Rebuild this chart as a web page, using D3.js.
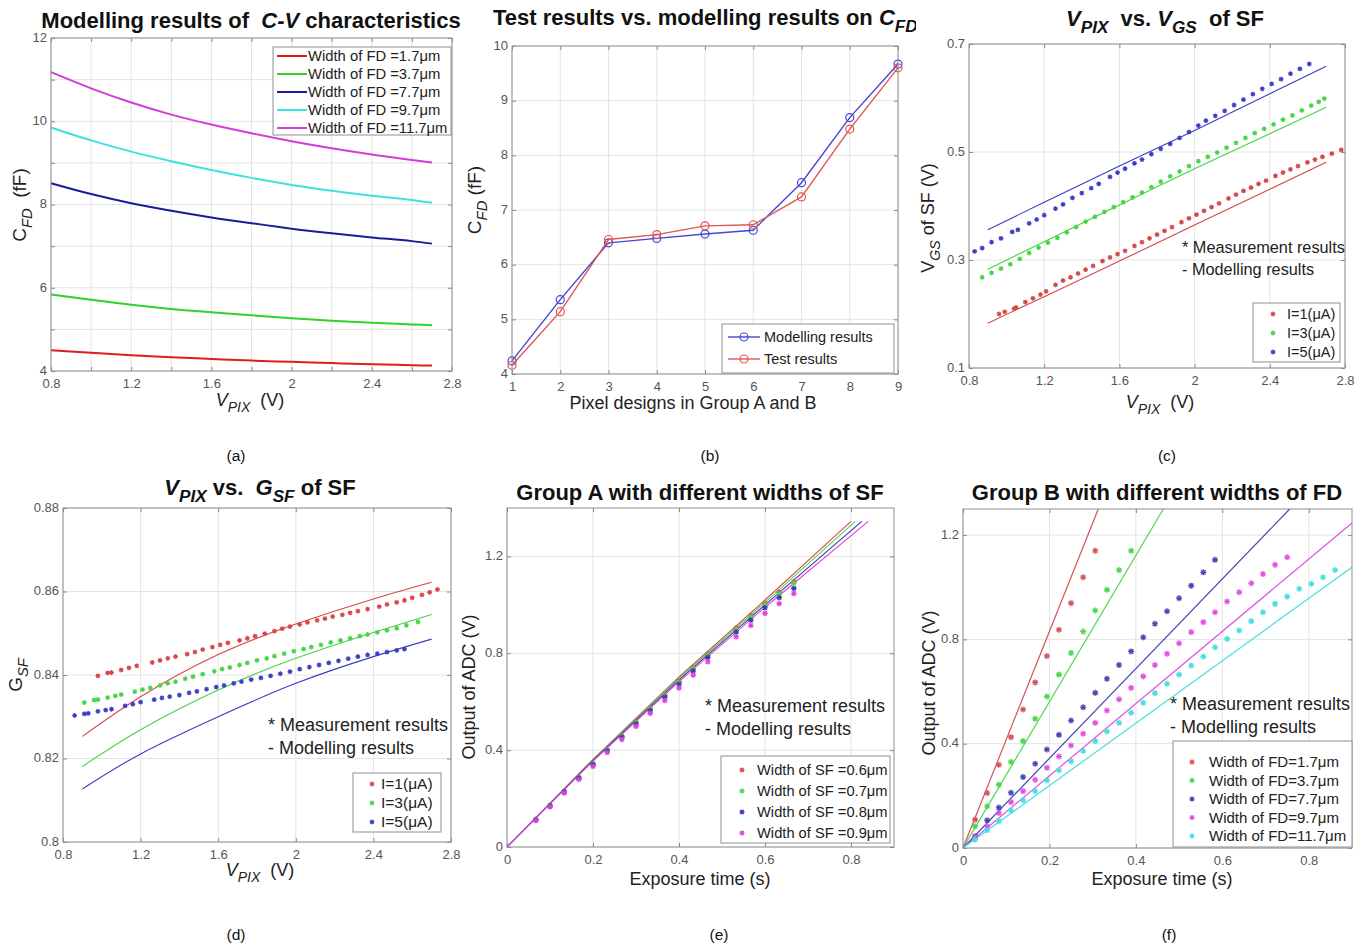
<!DOCTYPE html>
<html><head><meta charset="utf-8">
<script src="https://cdn.jsdelivr.net/npm/d3@7"></script>
<style>
body{margin:0;background:#fff}
svg{display:block}
text{font-family:"Liberation Sans",Arial,Helvetica,sans-serif;white-space:pre}
</style>
</head><body>
<svg id="chart" width="1368" height="948"></svg>
<script>
// ---------------- DATA ----------------
// (a) Modelling results of C-V characteristics
const aVpix = [0.8,1.0,1.2,1.4,1.6,1.8,2.0,2.2,2.4,2.6,2.7];
const aFD17 = [4.50,4.44,4.38,4.33,4.29,4.25,4.22,4.19,4.16,4.14,4.13];
const aFD37 = [5.84,5.71,5.59,5.49,5.41,5.34,5.27,5.21,5.16,5.12,5.10];
const aFD77 = [8.51,8.25,8.03,7.85,7.69,7.55,7.42,7.31,7.21,7.12,7.06];
const aFD97 = [9.85,9.54,9.27,9.04,8.83,8.64,8.47,8.33,8.21,8.11,8.04];
const aFD117 = [11.18,10.79,10.45,10.16,9.92,9.71,9.52,9.35,9.20,9.07,9.01];
const aLegend = ["Width of FD =1.7μm","Width of FD =3.7μm","Width of FD =7.7μm","Width of FD =9.7μm","Width of FD =11.7μm"];
const aXTicks = [0.8,1.2,1.6,2.0,2.4,2.8], aXTickLabels = ["0.8","1.2","1.6","2","2.4","2.8"];
const aYTicks = [4,6,8,10,12], aYTickLabels = ["4","6","8","10","12"];

// (b) Test results vs modelling results on C_FD
const bDesign = [1,2,3,4,5,6,7,8,9];
const bModel = [4.24,5.36,6.40,6.48,6.56,6.63,7.50,8.69,9.67];
const bTest  = [4.16,5.14,6.46,6.55,6.71,6.73,7.24,8.48,9.60];
const bLegend = ["Modelling results","Test results"];
const bXTickLabels = ["1","2","3","4","5","6","7","8","9"];
const bYTicks = [4,5,6,7,8,9,10], bYTickLabels = ["4","5","6","7","8","9","10"];

// (c) V_PIX vs V_GS of SF
const cModelX = [0.9,1.2,1.6,2.0,2.4,2.7];
const cModelI1 = [0.183,0.232,0.298,0.365,0.431,0.481];
const cModelI3 = [0.283,0.334,0.402,0.469,0.534,0.583];
const cModelI5 = [0.356,0.407,0.474,0.540,0.608,0.659];
const cMeasI1 = [[0.96,0.200],[0.99,0.204],[1.04,0.210],[1.05,0.212],[1.10,0.222],[1.14,0.229],[1.18,0.236],[1.21,0.242],[1.26,0.254],[1.30,0.262],[1.34,0.268],[1.38,0.275],[1.42,0.282],[1.46,0.289],[1.51,0.298],[1.55,0.305],[1.59,0.311],[1.63,0.317],[1.68,0.326],[1.72,0.333],[1.76,0.340],[1.80,0.347],[1.84,0.354],[1.88,0.361],[1.93,0.370],[1.97,0.377],[2.01,0.384],[2.05,0.391],[2.09,0.398],[2.13,0.405],[2.18,0.414],[2.22,0.421],[2.26,0.428],[2.30,0.434],[2.34,0.441],[2.38,0.447],[2.43,0.456],[2.47,0.462],[2.51,0.468],[2.55,0.474],[2.60,0.481],[2.64,0.486],[2.68,0.491],[2.73,0.497],[2.78,0.504]];
const cMeasI3 = [[0.87,0.268],[0.92,0.276],[0.97,0.284],[1.02,0.292],[1.07,0.302],[1.12,0.313],[1.17,0.323],[1.22,0.332],[1.27,0.341],[1.32,0.351],[1.37,0.361],[1.42,0.371],[1.47,0.380],[1.52,0.389],[1.57,0.398],[1.62,0.407],[1.67,0.416],[1.72,0.425],[1.77,0.435],[1.82,0.445],[1.87,0.455],[1.92,0.464],[1.97,0.474],[2.02,0.483],[2.07,0.491],[2.12,0.499],[2.17,0.508],[2.22,0.517],[2.27,0.526],[2.32,0.535],[2.37,0.543],[2.42,0.551],[2.47,0.560],[2.52,0.568],[2.57,0.577],[2.62,0.586],[2.66,0.593],[2.69,0.599]];
const cMeasI5 = [[0.83,0.316],[0.87,0.322],[0.92,0.333],[0.97,0.340],[1.03,0.352],[1.06,0.356],[1.12,0.368],[1.16,0.375],[1.20,0.383],[1.26,0.395],[1.30,0.403],[1.35,0.415],[1.40,0.424],[1.45,0.433],[1.49,0.441],[1.55,0.454],[1.59,0.462],[1.63,0.469],[1.68,0.479],[1.72,0.486],[1.77,0.496],[1.82,0.506],[1.87,0.515],[1.92,0.526],[1.97,0.537],[2.02,0.549],[2.06,0.558],[2.11,0.567],[2.16,0.576],[2.21,0.587],[2.26,0.597],[2.31,0.607],[2.36,0.617],[2.41,0.626],[2.46,0.635],[2.51,0.645],[2.56,0.654],[2.61,0.663]];
const cLegend = ["I=1(μA)","I=3(μA)","I=5(μA)"];
const cYTicks = [0.1,0.3,0.5,0.7], cYTickLabels = ["0.1","0.3","0.5","0.7"];

// (d) V_PIX vs G_SF of SF
const dModelX = [0.9,1.2,1.6,2.0,2.4,2.7];
const dModelI1 = [0.8253,0.8348,0.8449,0.8522,0.8582,0.8622];
const dModelI3 = [0.8181,0.8269,0.8364,0.8440,0.8502,0.8545];
const dModelI5 = [0.8127,0.8211,0.8300,0.8380,0.8444,0.8486];
const dMeasI1 = [[0.98,0.8398],[1.03,0.8405],[1.05,0.8406],[1.10,0.8412],[1.14,0.8417],[1.18,0.8422],[1.26,0.8430],[1.30,0.8435],[1.34,0.8440],[1.38,0.8444],[1.44,0.8450],[1.48,0.8455],[1.52,0.8461],[1.57,0.8467],[1.61,0.8472],[1.65,0.8477],[1.71,0.8483],[1.75,0.8488],[1.79,0.8493],[1.84,0.8499],[1.89,0.8505],[1.93,0.8511],[1.97,0.8516],[2.02,0.8521],[2.06,0.8526],[2.11,0.8531],[2.15,0.8535],[2.19,0.8540],[2.24,0.8544],[2.28,0.8549],[2.32,0.8553],[2.37,0.8558],[2.43,0.8564],[2.47,0.8569],[2.52,0.8574],[2.56,0.8579],[2.60,0.8585],[2.65,0.8592],[2.69,0.8598],[2.73,0.8605]];
const dMeasI3 = [[0.91,0.8334],[0.96,0.8340],[0.98,0.8341],[1.03,0.8346],[1.07,0.8350],[1.10,0.8353],[1.17,0.8360],[1.21,0.8365],[1.25,0.8369],[1.30,0.8375],[1.34,0.8380],[1.38,0.8384],[1.43,0.8391],[1.47,0.8396],[1.52,0.8402],[1.58,0.8409],[1.62,0.8414],[1.66,0.8418],[1.71,0.8424],[1.75,0.8429],[1.80,0.8435],[1.85,0.8440],[1.89,0.8445],[1.94,0.8451],[1.99,0.8457],[2.04,0.8462],[2.08,0.8467],[2.13,0.8472],[2.18,0.8478],[2.23,0.8483],[2.28,0.8488],[2.33,0.8493],[2.37,0.8497],[2.42,0.8502],[2.47,0.8507],[2.52,0.8512],[2.57,0.8519],[2.63,0.8527]];
const dMeasI5 = [[0.86,0.8303],[0.91,0.8307],[0.93,0.8308],[0.98,0.8313],[1.02,0.8316],[1.05,0.8318],[1.12,0.8326],[1.16,0.8330],[1.20,0.8335],[1.27,0.8341],[1.31,0.8345],[1.35,0.8348],[1.40,0.8352],[1.45,0.8357],[1.49,0.8361],[1.54,0.8366],[1.59,0.8371],[1.63,0.8375],[1.68,0.8380],[1.72,0.8384],[1.77,0.8389],[1.82,0.8393],[1.87,0.8398],[1.92,0.8403],[1.97,0.8408],[2.02,0.8414],[2.07,0.8419],[2.12,0.8424],[2.17,0.8429],[2.22,0.8434],[2.27,0.8439],[2.32,0.8444],[2.37,0.8448],[2.42,0.8451],[2.47,0.8455],[2.52,0.8459],[2.56,0.8462]];
const dYTicks = [0.8,0.82,0.84,0.86,0.88], dYTickLabels = ["0.8","0.82","0.84","0.86","0.88"];
const vXTicks = [0.8,1.2,1.6,2.0,2.4,2.8], vXTickLabels = ["0.8","1.2","1.6","2","2.4","2.8"];

// (e) Group A with different widths of SF
const eTime = [0.067,0.1,0.133,0.167,0.2,0.233,0.267,0.3,0.333,0.367,0.4,0.433,0.467,0.533,0.567,0.6,0.633,0.667];
const eMeasSF06 = [0.113,0.171,0.229,0.286,0.343,0.401,0.458,0.515,0.571,0.628,0.684,0.740,0.796,0.904,0.955,1.006,1.052,1.095];
const eMeasSF07 = [0.113,0.171,0.229,0.286,0.343,0.400,0.457,0.513,0.569,0.625,0.680,0.736,0.792,0.898,0.950,1.000,1.045,1.090];
const eMeasSF08 = [0.112,0.170,0.228,0.284,0.340,0.397,0.453,0.508,0.563,0.619,0.672,0.727,0.783,0.888,0.937,0.988,1.030,1.068];
const eMeasSF09 = [0.110,0.166,0.223,0.279,0.333,0.390,0.444,0.498,0.552,0.605,0.657,0.710,0.765,0.868,0.915,0.965,1.005,1.047];
const eModelSF06 = [[0,0],[0.2,0.362],[0.4,0.702],[0.6,1.020],[0.80,1.345]];
const eModelSF07 = [[0,0],[0.2,0.360],[0.4,0.697],[0.6,1.010],[0.81,1.345]];
const eModelSF08 = [[0,0],[0.2,0.358],[0.4,0.690],[0.6,1.000],[0.825,1.345]];
const eModelSF09 = [[0,0],[0.2,0.355],[0.4,0.683],[0.6,0.990],[0.84,1.345]];
const eLegend = ["Width of SF =0.6μm","Width of SF =0.7μm","Width of SF =0.8μm","Width of SF =0.9μm"];
const tXTicks = [0,0.2,0.4,0.6,0.8], tXTickLabels = ["0","0.2","0.4","0.6","0.8"];
const tYTicks = [0,0.4,0.8,1.2], tYTickLabels = ["0","0.4","0.8","1.2"];

// (f) Group B with different widths of FD
const fTime = [0.028,0.056,0.083,0.111,0.139,0.167,0.194,0.222,0.250,0.278,0.306,0.333,0.361,0.389,0.417,0.444,0.472,0.500,0.528,0.556,0.583,0.611,0.639,0.667,0.694,0.722,0.750,0.778,0.806,0.833,0.861];
const fMeasFD17 = [0.109,0.211,0.319,0.425,0.531,0.635,0.736,0.837,0.939,1.038,1.140];
const fMeasFD37 = [0.083,0.160,0.243,0.330,0.410,0.496,0.581,0.665,0.748,0.830,0.911,0.990,1.066,1.140];
const fMeasFD77 = [0.045,0.106,0.155,0.212,0.272,0.323,0.378,0.434,0.489,0.540,0.595,0.649,0.702,0.754,0.808,0.860,0.908,0.958,1.006,1.057,1.105];
const fMeasFD97 = [0.042,0.083,0.134,0.176,0.218,0.262,0.308,0.351,0.393,0.438,0.480,0.527,0.570,0.614,0.658,0.702,0.745,0.785,0.828,0.866,0.904,0.945,0.981,1.015,1.051,1.086,1.115];
const fMeasFD117 = [0.032,0.068,0.103,0.144,0.183,0.218,0.259,0.298,0.333,0.372,0.410,0.447,0.480,0.519,0.557,0.594,0.630,0.665,0.700,0.734,0.770,0.802,0.834,0.870,0.904,0.936,0.964,0.994,1.013,1.038,1.066];
const fModelFD17 = [[0,0],[0.313,1.3]];
const fModelFD37 = [[0,0],[0.4635,1.3]];
const fModelFD77 = [[0,0],[0.756,1.3]];
const fModelFD97 = [[0,0],[0.9,1.246]];
const fModelFD117 = [[0,0],[0.9,1.077]];
const fLegend = ["Width of FD=1.7μm","Width of FD=3.7μm","Width of FD=7.7μm","Width of FD=9.7μm","Width of FD=11.7μm"];

const captions = ["(a)","(b)","(c)","(d)","(e)","(f)"];

// ---------------- DRAWING ----------------
const svg = d3.select("#chart");
svg.append("rect").attr("width",1368).attr("height",948).attr("fill","#fff");

const TITLE = 22, AXL = 18, TICK = 13;

function rich(parent, x, y, parts, o) {
  const size = o.size;
  const t = parent.append("text").attr("x",x).attr("y",y)
    .attr("font-size",size).attr("text-anchor",o.anchor||"middle")
    .attr("font-weight",o.bold?"bold":"normal").attr("fill",o.fill||"#222");
  if (o.rotate) t.attr("transform",`rotate(-90,${x},${y})`);
  let shift = 0;
  parts.forEach(p => {
    const ts = t.append("tspan").text(p.t);
    if (p.it) ts.attr("font-style","italic");
    const want = p.sub ? size*0.32 : 0;
    if (want !== shift) { ts.attr("dy", want - shift); shift = want; }
    if (p.sub) ts.attr("font-size", size*0.78);
  });
  return t;
}

function panel(o) {
  const g = svg.append("g");
  const x = d3.scaleLinear().domain(o.xDom).range([o.L,o.R]);
  const y = d3.scaleLinear().domain(o.yDom).range([o.B,o.T]);
  g.append("rect").attr("x",o.L).attr("y",o.T).attr("width",o.R-o.L).attr("height",o.B-o.T).attr("fill","#fff");
  g.append("g").selectAll("line").data(o.xGrid).join("line")
    .attr("x1",d=>x(d)).attr("x2",d=>x(d)).attr("y1",o.T).attr("y2",o.B)
    .attr("stroke","#e4e4e4").attr("stroke-width",1);
  g.append("g").selectAll("line").data(o.yGrid).join("line")
    .attr("y1",d=>y(d)).attr("y2",d=>y(d)).attr("x1",o.L).attr("x2",o.R)
    .attr("stroke","#e4e4e4").attr("stroke-width",1);
  const data = g.append("g");
  return {g, data, x, y, o};
}

function frame(p) {
  const {g,x,y,o} = p;
  const lab = (ticks, labels) => d => { const i = ticks.findIndex(t=>Math.abs(t-d)<1e-9); return i<0?"":labels[i]; };
  const styleAx = s => { s.select(".domain").remove(); s.selectAll(".tick line").attr("stroke","#8a8a8a");
    s.selectAll("text").attr("font-size",TICK).attr("fill","#555").attr("font-family",'"Liberation Sans",Arial,sans-serif'); };
  g.append("g").attr("transform",`translate(0,${o.B})`)
    .call(d3.axisBottom(x).tickValues(o.xGrid).tickFormat(lab(o.xTicks,o.xLabels)).tickSizeInner(-4).tickSizeOuter(0).tickPadding(8)).call(styleAx);
  g.append("g").attr("transform",`translate(${o.L},0)`)
    .call(d3.axisLeft(y).tickValues(o.yGrid).tickFormat(lab(o.yTicks,o.yLabels)).tickSizeInner(-4).tickSizeOuter(0).tickPadding(4)).call(styleAx)
    .selectAll("text").attr("dy","0.25em");
  g.append("g").attr("transform",`translate(0,${o.T})`)
    .call(d3.axisTop(x).tickValues(o.xGrid).tickFormat("").tickSizeInner(-4).tickSizeOuter(0)).call(styleAx);
  g.append("g").attr("transform",`translate(${o.R},0)`)
    .call(d3.axisRight(y).tickValues(o.yGrid).tickFormat("").tickSizeInner(-4).tickSizeOuter(0)).call(styleAx);
  g.append("rect").attr("x",o.L).attr("y",o.T).attr("width",o.R-o.L).attr("height",o.B-o.T)
    .attr("fill","none").attr("stroke","#8f8f8f").attr("stroke-width",1);
}

function starPath(cx, cy, r) {
  const k = r*0.72;
  return `M${cx-r},${cy}H${cx+r}M${cx},${cy-r}V${cy+r}M${cx-k},${cy-k}L${cx+k},${cy+k}M${cx-k},${cy+k}L${cx+k},${cy-k}`;
}
function stars(sel, pts, color, r) {
  sel.append("g").selectAll("circle").data(pts).join("circle")
    .attr("cx",d=>d[0]).attr("cy",d=>d[1]).attr("r",r*0.95).attr("fill",color).attr("opacity",0.25);
  sel.append("path").attr("d", pts.map(d=>starPath(d[0],d[1],r)).join(""))
    .attr("stroke",color).attr("stroke-width",1.1).attr("fill","none");
}
function line(p, pts, color, w, curve) {
  p.data.append("path").datum(pts)
    .attr("d", d3.line().x(d=>p.x(d[0])).y(d=>p.y(d[1])).curve(curve||d3.curveLinear))
    .attr("fill","none").attr("stroke",color).attr("stroke-width",w);
}
function legendBox(x0,y0,x1,y1){
  svg.append("rect").attr("x",x0).attr("y",y0).attr("width",x1-x0).attr("height",y1-y0)
    .attr("fill","#fff").attr("stroke","#8f8f8f").attr("stroke-width",1);
}
function txt(x,y,s,size,anchor,fill){
  return svg.append("text").attr("x",x).attr("y",y).attr("font-size",size).attr("text-anchor",anchor||"start").attr("fill",fill||"#222").text(s);
}

const zip = (xs, ys) => ys.map((v,i)=>[xs[i],v]);

// ===== (a) =====
{
  const p = panel({L:51,R:452,T:38,B:371,xDom:[0.8,2.8],yDom:[4,12],
    xGrid:[0.8,1.0,1.2,1.4,1.6,1.8,2.0,2.2,2.4,2.6,2.8], yGrid:[4,5,6,7,8,9,10,11,12],
    xTicks:aXTicks,xLabels:aXTickLabels,yTicks:aYTicks,yLabels:aYTickLabels});
  const cols = ["#e01c1c","#2fd12f","#1a1a9c","#3fe0e0","#d63cd6"];
  [aFD17,aFD37,aFD77,aFD97,aFD117].forEach((s,i)=>line(p, zip(aVpix,s), cols[i], 2, d3.curveMonotoneX));
  frame(p);
  legendBox(273,47,451,135);
  aLegend.forEach((t,i)=>{
    const yy = 56 + i*18;
    svg.append("line").attr("x1",277).attr("x2",307).attr("y1",yy).attr("y2",yy).attr("stroke",cols[i]).attr("stroke-width",2);
    txt(308, yy+5, t, 14.8);
  });
  rich(svg, 251, 28, [{t:"Modelling results of  "},{t:"C-V",it:true},{t:" characteristics"}], {size:TITLE,bold:true,fill:"#111"});
  rich(svg, 26, 205, [{t:"C"},{t:"FD",sub:true,it:true},{t:"  (fF)"}], {size:19,rotate:true});
  rich(svg, 250, 406, [{t:"V",it:true},{t:"PIX",sub:true,it:true},{t:"  (V)"}], {size:AXL});
}

// ===== (b) =====
{
  const p = panel({L:512,R:898,T:46,B:374,xDom:[1,9],yDom:[4,10],
    xGrid:bDesign, yGrid:bYTicks, xTicks:bDesign,xLabels:bXTickLabels,yTicks:bYTicks,yLabels:bYTickLabels});
  const cols = ["#4646d2","#e05656"];
  [bModel,bTest].forEach((s,i)=>{
    const pts = zip(bDesign,s);
    line(p, pts, cols[i], 1.4);
    p.data.append("g").selectAll("circle").data(pts).join("circle")
      .attr("cx",d=>p.x(d[0])).attr("cy",d=>p.y(d[1])).attr("r",4)
      .attr("fill","none").attr("stroke",cols[i]).attr("stroke-width",1.2);
  });
  frame(p);
  legendBox(722,324,894,373);
  bLegend.forEach((t,i)=>{
    const yy = 337 + i*22;
    svg.append("line").attr("x1",728).attr("x2",760).attr("y1",yy).attr("y2",yy).attr("stroke",cols[i]).attr("stroke-width",1.4);
    svg.append("circle").attr("cx",744).attr("cy",yy).attr("r",4).attr("fill","none").attr("stroke",cols[i]).attr("stroke-width",1.2);
    txt(764, yy+5, t, 14.5);
  });
  svg.append("clipPath").attr("id","clipB").append("rect").attr("x",480).attr("y",0).attr("width",436).attr("height",45);
  rich(svg.append("g").attr("clip-path","url(#clipB)"), 493, 25, [{t:"Test results vs. modelling results on "},{t:"C",it:true},{t:"FD",it:true,sub:true}], {size:TITLE,bold:true,anchor:"start",fill:"#111"});
  rich(svg, 481, 200, [{t:"C"},{t:"FD",sub:true,it:true},{t:" (fF)"}], {size:19,rotate:true});
  txt(693, 409, "Pixel designs in Group A and B", AXL, "middle");
}

// ===== (c) =====
{
  const p = panel({L:969,R:1345,T:44,B:368,xDom:[0.8,2.8],yDom:[0.1,0.7],
    xGrid:vXTicks, yGrid:cYTicks, xTicks:vXTicks,xLabels:vXTickLabels,yTicks:cYTicks,yLabels:cYTickLabels});
  const cols = ["#d84646","#44d444","#3c3cc4"];
  [cModelI1,cModelI3,cModelI5].forEach((s,i)=>line(p, zip(cModelX,s), cols[i], 1.1, d3.curveNatural));
  [cMeasI1,cMeasI3,cMeasI5].forEach((s,i)=>stars(p.data, s.map(d=>[p.x(d[0]),p.y(d[1])]), cols[i], 2.4));
  frame(p);
  txt(1182, 253, "* Measurement results", 16.3);
  txt(1182, 275, "- Modelling results", 16.3);
  legendBox(1253,303,1340,362);
  cLegend.forEach((t,i)=>{
    const yy = 314 + i*19;
    stars(svg, [[1273,yy]], cols[i], 2.4);
    txt(1287, yy+5, t, 14.5);
  });
  rich(svg, 1165, 26, [{t:"V",it:true},{t:"PIX",it:true,sub:true},{t:"  vs. "},{t:"V",it:true},{t:"GS",it:true,sub:true},{t:"  of SF"}], {size:TITLE,bold:true,fill:"#111"});
  rich(svg, 934, 218, [{t:"V"},{t:"GS",sub:true,it:true},{t:" of SF (V)"}], {size:AXL,rotate:true});
  rich(svg, 1160, 408, [{t:"V",it:true},{t:"PIX",sub:true,it:true},{t:"  (V)"}], {size:AXL});
}

// ===== (d) =====
{
  const p = panel({L:63,R:451,T:508,B:842,xDom:[0.8,2.8],yDom:[0.8,0.88],
    xGrid:vXTicks, yGrid:dYTicks, xTicks:vXTicks,xLabels:vXTickLabels,yTicks:dYTicks,yLabels:dYTickLabels});
  const cols = ["#d84646","#44d444","#3c3cc4"];
  [dModelI1,dModelI3,dModelI5].forEach((s,i)=>line(p, zip(dModelX,s), cols[i], 1.1, d3.curveNatural));
  [dMeasI1,dMeasI3,dMeasI5].forEach((s,i)=>stars(p.data, s.map(d=>[p.x(d[0]),p.y(d[1])]), cols[i], 2.4));
  frame(p);
  txt(268, 731, "* Measurement results", AXL);
  txt(268, 754, "- Modelling results", AXL);
  legendBox(353,773,441,832);
  cLegend.forEach((t,i)=>{
    const yy = 784 + i*19;
    stars(svg, [[372,yy]], cols[i], 2.4);
    txt(381, yy+5, t, 15.5);
  });
  rich(svg, 260, 495, [{t:"V",it:true},{t:"PIX",it:true,sub:true},{t:" vs.  "},{t:"G",it:true},{t:"SF",it:true,sub:true},{t:" of SF"}], {size:TITLE,bold:true,fill:"#111"});
  rich(svg, 22, 675, [{t:"G"},{t:"SF",sub:true,it:true}], {size:19,rotate:true});
  rich(svg, 260, 876, [{t:"V",it:true},{t:"PIX",sub:true,it:true},{t:"  (V)"}], {size:AXL});
}

// ===== (e) =====
{
  const p = panel({L:507,R:894,T:508,B:847,xDom:[0,0.9],yDom:[0,1.4],
    xGrid:tXTicks, yGrid:tYTicks, xTicks:tXTicks,xLabels:tXTickLabels,yTicks:tYTicks,yLabels:tYTickLabels});
  const cols = ["#d85050","#50d850","#3838b8","#e040e0"];
  [eModelSF06,eModelSF07,eModelSF08,eModelSF09].forEach((s,i)=>line(p, s, cols[i], 1.1));
  [eMeasSF06,eMeasSF07,eMeasSF08,eMeasSF09].forEach((s,i)=>stars(p.data, zip(eTime,s).map(d=>[p.x(d[0]),p.y(d[1])]), cols[i], 2.8));
  frame(p);
  txt(705, 712, "* Measurement results", AXL);
  txt(705, 735, "- Modelling results", AXL);
  legendBox(721,756,890,843);
  eLegend.forEach((t,i)=>{
    const yy = 770 + i*21;
    stars(svg, [[742,yy]], cols[i], 2.6);
    txt(757, yy+5, t, 14.7);
  });
  txt(700, 500, "Group A with different widths of SF", TITLE, "middle", "#111").attr("font-weight","bold");
  txt(475, 687, "Output of ADC (V)", AXL, "middle").attr("transform","rotate(-90,475,687)");
  txt(700, 885, "Exposure time (s)", AXL, "middle");
}

// ===== (f) =====
{
  const p = panel({L:963,R:1352,T:509,B:848,xDom:[0,0.9],yDom:[0,1.3],
    xGrid:tXTicks, yGrid:tYTicks, xTicks:tXTicks,xLabels:tXTickLabels,yTicks:tYTicks,yLabels:tYTickLabels});
  const cols = ["#d45454","#48d848","#4545b5","#e050e0","#48dede"];
  [fModelFD17,fModelFD37,fModelFD77,fModelFD97,fModelFD117].forEach((s,i)=>line(p, s, cols[i], 1.2));
  [fMeasFD17,fMeasFD37,fMeasFD77,fMeasFD97,fMeasFD117].forEach((s,i)=>stars(p.data, s.map((v,j)=>[p.x(fTime[j]),p.y(v)]), cols[i], 3));
  frame(p);
  txt(1170, 710, "* Measurement results", AXL);
  txt(1170, 733, "- Modelling results", AXL);
  legendBox(1173,741,1352,847);
  fLegend.forEach((t,i)=>{
    const yy = 762 + i*18.5;
    stars(svg, [[1192,yy]], cols[i], 2.6);
    txt(1209, yy+5, t, 15);
  });
  txt(1157, 500, "Group B with different widths of FD", TITLE, "middle", "#111").attr("font-weight","bold");
  txt(935, 683, "Output of ADC (V)", AXL, "middle").attr("transform","rotate(-90,935,683)");
  txt(1162, 885, "Exposure time (s)", AXL, "middle");
}

// captions
const capPos = [[236,461],[710,461],[1167,461],[236,940],[719,940],[1169,940]];
captions.forEach((c,i)=>txt(capPos[i][0], capPos[i][1], c, 15.5, "middle", "#111"));
</script>
</body></html>
